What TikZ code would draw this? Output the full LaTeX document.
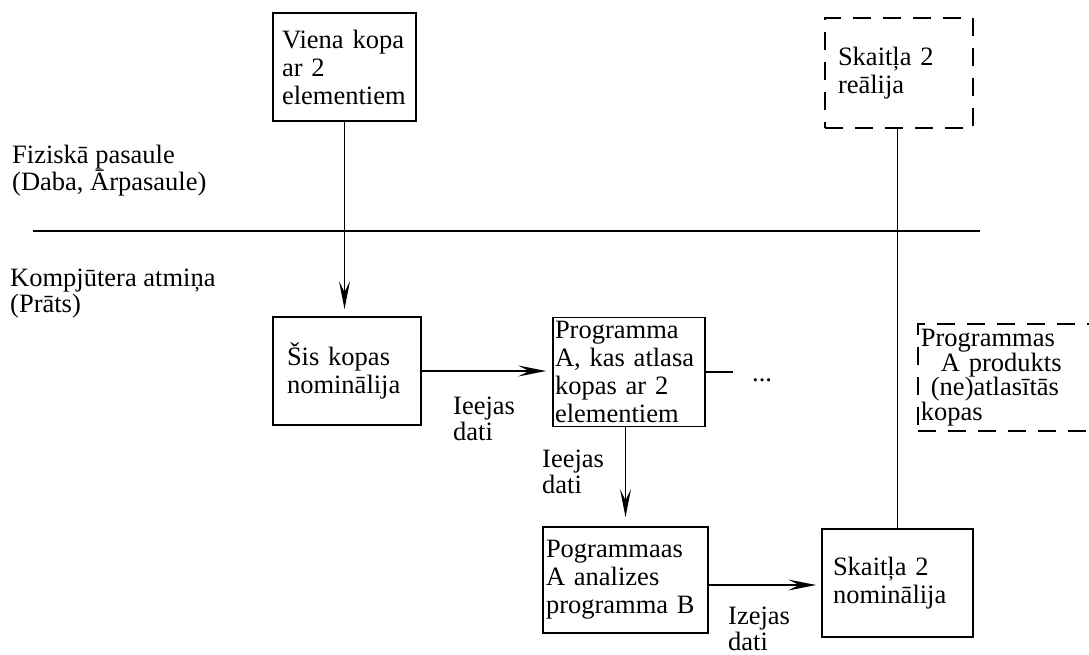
\documentclass[tikz,border=0pt]{standalone}
\usepackage{fontspec}
\setmainfont{Liberation Serif}
\usetikzlibrary{arrows.meta}
\begin{document}
\begin{tikzpicture}[x=1pt,y=-1pt,
  every node/.style={font=\fontsize{26.5}{28}\selectfont},
  box/.style={draw, line width=1.8pt, align=left, inner ysep=2pt},
  dashbox/.style={box, dash pattern=on 18pt off 12pt},
  lbl/.style={anchor=north west, inner sep=0pt, align=left, font=\fontsize{26.5}{26}\selectfont},
  conn/.style={line width=1.8pt},
  arr/.style={conn, -{Stealth[length=28pt,width=11pt,inset=11pt]}},
]
\useasboundingbox (0,0) rectangle (1089,655);

% boundary between the physical world and the computer memory
\coordinate (hlL) at (33,231);
\coordinate (hlR) at (980,231);
\draw[conn] (hlL) -- (hlR);

% region labels
\node[lbl] (fiz) at (12,145) {Fiziskā pasaule\\(Daba, Ārpasaule)};
\node[lbl] (komp) at (10,269) {Kompjūtera atmiņa\\(Prāts)};

% boxes
\node[box, minimum height=108pt, text width=125pt, inner xsep=9pt] (viena) at (344.5,67)
  {Viena~kopa\\ar~2\\elementiem};
\node[dashbox, minimum height=110pt, text width=122pt, inner xsep=13pt] (realija) at (899,73)
  {Skaitļa~2\\reālija};
\node[box, minimum height=108pt, text width=120pt, inner xsep=14pt] (sis) at (347,371)
  {Šis~kopas\\nominālija};
\node[box, minimum height=109pt, text width=148pt, inner xsep=2pt, inner ysep=0pt] (progA) at (629,372)
  {Programma\\A,~kas~atlasa\\kopas~ar~2\\elementiem};
\node[box, minimum height=106pt, text width=159pt, inner xsep=3pt] (progB) at (625.5,580)
  {Pogrammaas\\A~analizes\\programma~B};
\node[box, minimum height=108pt, text width=129pt, inner xsep=11pt] (nom) at (897.5,583)
  {Skaitļa~2\\nominālija};
\node[dashbox, anchor=north west, minimum height=107pt, text width=169pt, inner xsep=3pt,
      font=\fontsize{26.5}{24.5}\selectfont] (produkts) at (917,323)
  {Programmas\\\hspace*{20pt}A~produkts\\\hspace*{10pt}(ne)atlasītās\\kopas};

% connector labels
\node[lbl] (in1) at (453,397) {Ieejas\\dati};
\node[lbl] (in2) at (542,450) {Ieejas\\dati};
\node[lbl] (out) at (728,607) {Izejas\\dati};
\node[anchor=base west, inner sep=0pt] (dots) at (752,381) {...};

% connectors
\draw[arr, shorten >=7pt] (viena.south) -- (viena.south |- sis.north);
\draw[arr, shorten >=6pt] (sis.east) -- (sis.east -| progA.west);
\coordinate (aout) at (733,370);
\draw[conn] (progA.east) -- (progA.east -| aout);
\draw[arr, shorten >=9pt] (progB.north |- progA.south) -- (progB.north);
\draw[arr, shorten >=5pt] ([yshift=-5pt]progB.east) -- ([yshift=-5pt]progB.east -| nom.west);
\draw[conn] (nom.north) -- (nom.north |- realija.south);
\end{tikzpicture}
\end{document}
